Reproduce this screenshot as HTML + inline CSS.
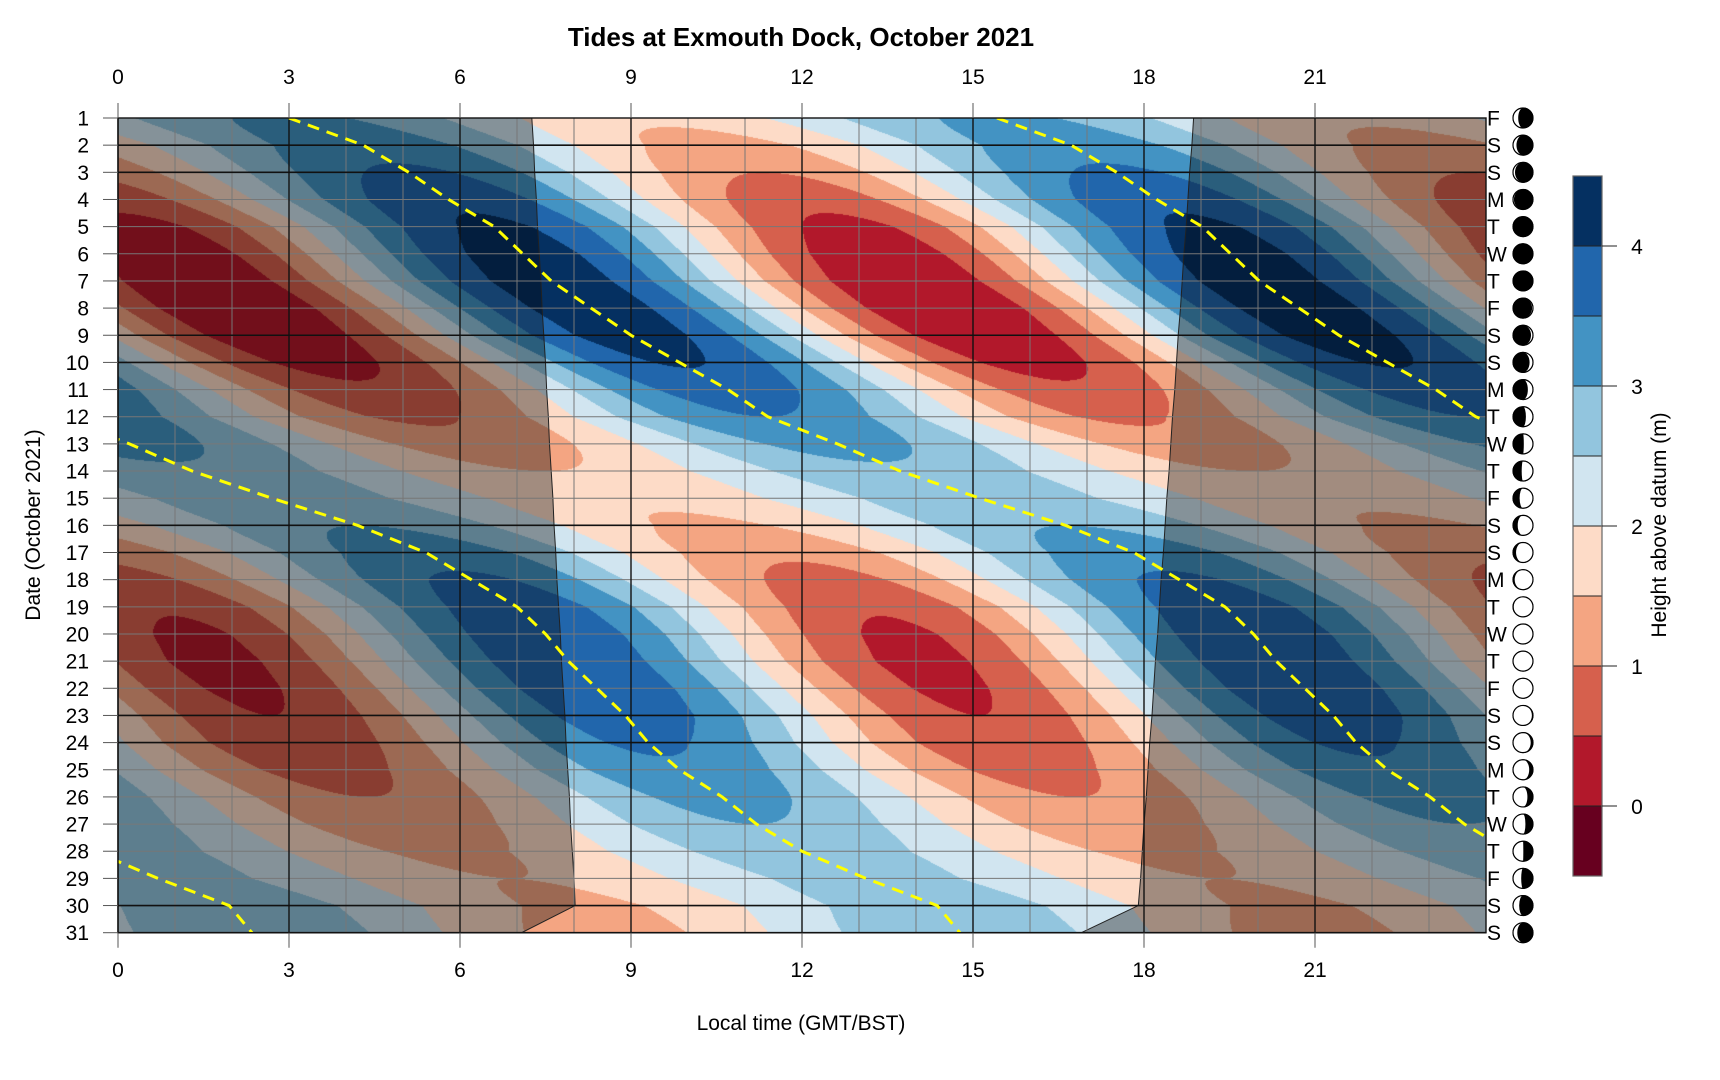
<!DOCTYPE html>
<html><head><meta charset="utf-8"><style>
html,body{margin:0;padding:0;background:#fff;}
#wrap{position:relative;width:1720px;height:1080px;font-family:"Liberation Sans",sans-serif;}
canvas,svg{position:absolute;left:0;top:0;}
</style></head><body>
<div id="wrap">
<canvas id="cv" width="1720" height="1080"></canvas>
<svg id="sv" width="1720" height="1080"></svg>
</div>
<script>
// ---- data ----
const days = [1,2,3,4,5,6,7,8,9,10,11,12,13,14,15,16,17,18,19,20,21,22,23,24,25,26,27,28,29,30,31];
const weekdays = ["F","S","S","M","T","W","T","F","S","S","M","T","W","T","F","S","S","M","T","W","T","F","S","S","M","T","W","T","F","S","S"];
// time of a high water each day (hours, modulo 12.42)
const hwTime = [3.0,4.3,5.1,5.8,6.6,7.1,7.6,8.3,9.0,9.85,10.7,11.4,0.2,1.3,2.7,4.2,5.4,6.2,7.0,7.5,7.9,8.4,8.9,9.3,9.85,10.6,11.2,12.0,0.7,1.95,2.35];
const hwHeight = [3.1,3.3,3.6,3.9,4.1,4.25,4.3,4.3,4.25,4.05,3.8,3.5,3.2,2.9,2.8,3.0,3.3,3.6,3.8,3.9,3.9,3.9,3.8,3.6,3.4,3.2,3.0,2.8,2.7,2.8,2.9];
const lwHeight = [1.6,1.3,1.0,0.65,0.35,0.15,0.05,0.0,0.1,0.3,0.6,0.9,1.2,1.5,1.6,1.4,1.1,0.8,0.55,0.4,0.35,0.4,0.5,0.6,0.8,1.0,1.2,1.4,1.5,1.4,1.3];
const sunrise = [7.26,7.29,7.31,7.34,7.36,7.39,7.42,7.44,7.47,7.50,7.52,7.55,7.57,7.60,7.63,7.65,7.68,7.70,7.73,7.76,7.78,7.81,7.84,7.86,7.89,7.92,7.94,7.97,8.00,8.02,7.08];
const sunset = [18.87,18.84,18.80,18.77,18.74,18.70,18.67,18.64,18.60,18.57,18.54,18.50,18.47,18.44,18.40,18.37,18.34,18.30,18.27,18.24,18.20,18.17,18.14,18.10,18.07,18.04,18.00,17.97,17.94,17.90,16.90];
const moonAge = [24.5,25.5,26.5,27.5,28.5,0,1,2,3,4,5,6,7,8,9,10,11,12,13,14,15,16,17,18,19,20,21,22,23,24,25];
const levels = [-0.5,0,0.5,1,1.5,2,2.5,3,3.5,4,4.5];
const levelColors = ["#67001f","#b2182b","#d6604d","#f4a582","#fddbc7","#d1e5f0","#92c5de","#4393c3","#2166ac","#053061"];
const hourTicks = [0,3,6,9,12,15,18,21];
const cbTicks = [0,1,2,3,4];
const PERIOD = 12.42;

// ---- axes ----
const X0=118, X1=1486, Y0=118, Y1=932.7;
const xS = h => X0 + (X1-X0)*h/24;
const yS = d => Y0 + (Y1-Y0)*(d-1)/30;
const CBX=1573, CBW=29, CBT=176, CBB=876;
const cbY = v => CBB - (CBB-CBT)*(v-levels[0])/(levels[levels.length-1]-levels[0]);

const U=[hwTime[0]];
for(let i=1;i<hwTime.length;i++){let v=hwTime[i];while(v<U[i-1]-PERIOD/2)v+=PERIOD;U.push(v);}

function interp(arr,d){const i=Math.min(Math.floor(d-1),arr.length-2);const f=(d-1)-i;return arr[i]*(1-f)+arr[i+1]*f;}
function height(t,d){const u=interp(U,d),hh=interp(hwHeight,d),lh=interp(lwHeight,d);
  return (hh+lh)/2+(hh-lh)/2*Math.cos(2*Math.PI*(t-u)/PERIOD);}

// ---- contour fill ----
const cv=document.getElementById('cv');const ctx=cv.getContext('2d');
const rgb=levelColors.map(c=>[parseInt(c.substr(1,2),16),parseInt(c.substr(3,2),16),parseInt(c.substr(5,2),16)]);
const W=Math.round(X1-X0),H=Math.round(Y1-Y0);
const img=ctx.createImageData(W,H);
for(let py=0;py<H;py++){const d=1+30*(py+0.5)/H;
  for(let px=0;px<W;px++){const t=24*(px+0.5)/W;const v=height(t,d);
    let k=0;while(k<levelColors.length-1&&v>=levels[k+1])k++;
    const o=(py*W+px)*4;img.data[o]=rgb[k][0];img.data[o+1]=rgb[k][1];img.data[o+2]=rgb[k][2];img.data[o+3]=255;}}
ctx.putImageData(img,X0,Y0);

// ---- svg ----
const NS="http://www.w3.org/2000/svg";const sv=document.getElementById('sv');
function mk(tag,attrs,parent){const e=document.createElementNS(NS,tag);for(const k in attrs)e.setAttribute(k,attrs[k]);(parent||sv).appendChild(e);return e;}
const defs=mk('defs',{});const cp=mk('clipPath',{id:'clip'},defs);mk('rect',{x:X0,y:Y0,width:X1-X0,height:Y1-Y0},cp);

const nightL=mk('path',{d:'M'+X0+','+Y0+days.map(d=>' L'+xS(sunrise[d-1])+','+yS(d)).join('')+' L'+X0+','+Y1+'Z',fill:'rgba(0,0,0,0.36)',stroke:'#222','stroke-width':1});


const nightR=mk('path',{d:'M'+X1+','+Y0+days.map(d=>' L'+xS(sunset[d-1])+','+yS(d)).join('')+' L'+X1+','+Y1+'Z',fill:'rgba(0,0,0,0.36)',stroke:'#222','stroke-width':1});



const grid=mk('g',{});


for(let h=1;h<24;h++){if(h%3)mk('line',{x1:xS(h),x2:xS(h),y1:Y0,y2:Y1,stroke:'#777','stroke-width':1},grid);}
days.forEach((d,i)=>{const we=weekdays[i]==='S';mk('line',{x1:X0,x2:X1,y1:yS(d),y2:yS(d),stroke:we?'#111':'#777','stroke-width':we?1.6:1},grid);});
hourTicks.forEach(h=>mk('line',{x1:xS(h),x2:xS(h),y1:Y0,y2:Y1,stroke:'#111','stroke-width':1.4},grid));

const hwg=mk('g',{'clip-path':'url(#clip)'});


for(let n=-3;n<=2;n++){const pts=days.map(d=>xS(U[d-1]+n*PERIOD)+','+yS(d)).join(' ');
  const pl=mk('polyline',{points:pts,fill:'none',stroke:'#ffff00','stroke-width':3,'stroke-dasharray':'12,8'},hwg);
  
  }

const bd=mk('rect',{x:X0,y:Y0,width:X1-X0,height:Y1-Y0,fill:'none',stroke:'#111','stroke-width':1.4});



const F='font-family:"Liberation Sans",sans-serif;';
hourTicks.forEach(h=>{
  mk('line',{x1:xS(h),x2:xS(h),y1:Y0-15,y2:Y0,stroke:'#555'});
  mk('line',{x1:xS(h),x2:xS(h),y1:Y1,y2:Y1+15,stroke:'#555'});
  const t1=mk('text',{x:xS(h),y:84,'text-anchor':'middle',style:F+'font-size:21px'});t1.textContent=h;
  
  
  const t2=mk('text',{x:xS(h),y:977,'text-anchor':'middle',style:F+'font-size:21px'});t2.textContent=h;
  
  
});
days.forEach((d,i)=>{
  mk('line',{x1:X0-15,x2:X0,y1:yS(d),y2:yS(d),stroke:'#555'});
  const t=mk('text',{x:89,y:yS(d)+7.5,'text-anchor':'end',style:F+'font-size:21px'});t.textContent=d;
  
  
  const w=mk('text',{x:1487,y:yS(d)+7.5,style:F+'font-size:21px'});w.textContent=weekdays[i];
  
  
  const cx=1523,cy=yS(d),r=10,age=moonAge[i];
  const g=mk('g',{});
  
  
  mk('circle',{cx:cx,cy:cy,r:r,fill:'#000',stroke:'#000','stroke-width':1},g);
  const k=Math.cos(2*Math.PI*age/29.53),rx=Math.abs(k)*r;const wax=age<29.53/2;
  let dpath;
  if(wax){dpath=`M${cx},${cy-r} A${r},${r} 0 0 1 ${cx},${cy+r} A${rx},${r} 0 0 ${k>0?0:1} ${cx},${cy-r}Z`;}
  else{dpath=`M${cx},${cy-r} A${r},${r} 0 0 0 ${cx},${cy+r} A${rx},${r} 0 0 ${k>0?1:0} ${cx},${cy-r}Z`;}
  mk('path',{d:dpath,fill:'#fff'},g);
  mk('circle',{cx:cx,cy:cy,r:r,fill:'none',stroke:'#000','stroke-width':1.2},g);
});

const ti=mk('text',{x:801,y:46,'text-anchor':'middle',style:F+'font-size:26px;font-weight:bold'});ti.textContent='Tides at Exmouth Dock, October 2021';


const xt=mk('text',{x:801,y:1030,'text-anchor':'middle',style:F+'font-size:21px'});xt.textContent='Local time (GMT/BST)';


const yt=mk('text',{x:0,y:0,'text-anchor':'middle',transform:'translate(40,525) rotate(-90)',style:F+'font-size:21px'});yt.textContent='Date (October 2021)';



const cb=mk('g',{});


levelColors.forEach((c,i)=>{const r=mk('rect',{x:CBX,y:cbY(levels[i+1]),width:CBW,height:cbY(levels[i])-cbY(levels[i+1]),fill:c,stroke:'#222','stroke-width':1},cb);
  
  });
mk('rect',{x:CBX,y:CBT,width:CBW,height:CBB-CBT,fill:'none',stroke:'#666','stroke-width':1.2},cb);
cbTicks.forEach(v=>{mk('line',{x1:CBX+CBW,x2:CBX+CBW+15,y1:cbY(v),y2:cbY(v),stroke:'#222'},cb);
  const t=mk('text',{x:1637,y:cbY(v)+8,'text-anchor':'middle',style:F+'font-size:21px'},cb);t.textContent=v;
  
  });
const ct=mk('text',{x:0,y:0,'text-anchor':'middle',transform:'translate(1666,525) rotate(-90)',style:F+'font-size:21px'});ct.textContent='Height above datum (m)';


</script>
</body></html>
